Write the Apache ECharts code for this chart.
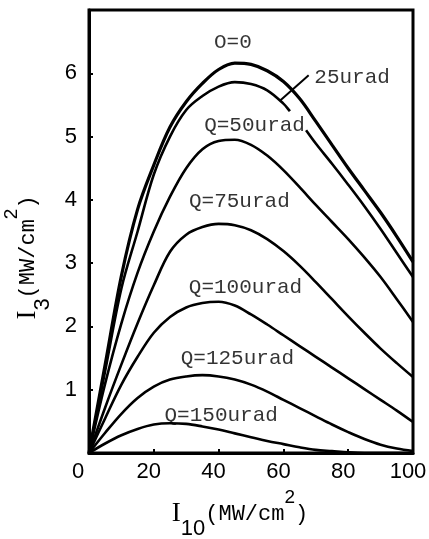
<!DOCTYPE html>
<html>
<head>
<meta charset="utf-8">
<script src="https://cdn.jsdelivr.net/npm/echarts@6/dist/echarts.min.js"></script>
<style>
  html, body { margin: 0; padding: 0; background: #fff; }
  #chart { width: 429px; height: 539px; }
</style>
</head>
<body>
<div id="chart"></div>
<script>
// I10 grid (MW/cm2)
const xGrid = [0, 5, 10, 15, 20, 25, 30, 35, 40, 45, 50, 55, 60, 65, 70, 75, 80, 85, 90, 95, 100]

// I3 for each divergence Q
const q0   = [0, 1.4, 2.8, 3.85, 4.55, 5.15, 5.55, 5.84, 6.06, 6.16, 6.14, 6.04, 5.87, 5.6, 5.24, 4.87, 4.5, 4.15, 3.8, 3.42, 3.02]
const q50  = [0, 1.1, 2.05, 2.85, 3.5, 4.05, 4.5, 4.8, 4.93, 4.95, 4.87, 4.7, 4.47, 4.2, 3.92, 3.65, 3.38, 3.09, 2.78, 2.43, 2.07]
const q75  = [0, 0.72, 1.4, 2.05, 2.65, 3.18, 3.45, 3.57, 3.62, 3.6, 3.52, 3.38, 3.19, 2.96, 2.7, 2.43, 2.16, 1.9, 1.65, 1.42, 1.2]
const q100 = [0, 0.55, 1.08, 1.52, 1.9, 2.15, 2.3, 2.37, 2.39, 2.33, 2.19, 2.03, 1.86, 1.69, 1.52, 1.35, 1.18, 1.01, 0.84, 0.67, 0.49]
const q125 = [0, 0.32, 0.62, 0.87, 1.05, 1.16, 1.21, 1.23, 1.21, 1.16, 1.08, 0.97, 0.84, 0.71, 0.58, 0.45, 0.33, 0.22, 0.13, 0.07, 0.03]
const q150 = [0, 0.15, 0.28, 0.38, 0.45, 0.47, 0.46, 0.42, 0.37, 0.31, 0.25, 0.19, 0.14, 0.09, 0.05, 0.03, 0.01, 0, 0, 0, 0]

// Q=25 curve is broken where the Q=50 label sits
const q25X = [0, 5, 10, 15, 20, 25, 30, 35, 40, 45, 50, 55, 60, 62, 64.5, 67, 70, 75, 80, 85, 90, 95, 100]
const q25  = [0, 1.3, 2.6, 3.5, 4.4, 5.0, 5.42, 5.64, 5.79, 5.86, 5.83, 5.73, 5.52, 5.4, null, 5.1, 4.89, 4.57, 4.24, 3.9, 3.54, 3.16, 2.78]

// curve labels
const labelText = ['O=0', '25urad', 'Q=50urad', 'Q=75urad', 'Q=100urad', 'Q=125urad', 'Q=150urad']
const labelX = [44.4, 81.2, 51.1, 46.4, 48.3, 45.8, 40.8]
const labelY = [6.48, 5.94, 5.18, 3.97, 2.61, 1.5, 0.6]

// leader from the 25urad label to its curve
const leaderX = [59, 67.8]
const leaderY = [5.57, 5.97]

const xTicks = [0, 20, 40, 60, 80, 100]
const yTicks = [1, 2, 3, 4, 5, 6]

const pairs = (xs, ys) => xs.map((x, i) => [x, ys[i]])

const mono = '"Liberation Mono", "DejaVu Sans Mono", monospace'
const sans = '"Liberation Sans", Arial, sans-serif'
const serif = '"Liberation Serif", "DejaVu Serif", serif'

const titleRich = {
  i: { fontFamily: serif, fontSize: 27, color: '#000', verticalAlign: 'middle', lineHeight: 52 },
  sub: { fontFamily: sans, fontSize: 22, color: '#000', verticalAlign: 'bottom', lineHeight: 22 },
  m: { fontFamily: mono, fontSize: 22, color: '#000', verticalAlign: 'middle', lineHeight: 52 },
  sup: { fontFamily: sans, fontSize: 19, color: '#000', verticalAlign: 'top', lineHeight: 20 }
}

const chart = echarts.init(document.getElementById('chart'), null, { renderer: 'canvas' })

const curve = (name, data, width) => ({
  name,
  type: 'line',
  data,
  smooth: 0.35,
  showSymbol: false,
  connectNulls: false,
  silent: true,
  lineStyle: { color: '#000', width }
})

chart.setOption({
  animation: false,
  backgroundColor: '#fff',
  grid: {
    left: 89, right: 16, top: 10, bottom: 86,
    outerBoundsMode: 'none',
    containLabel: false,
    show: true, borderColor: '#000', borderWidth: 3
  },
  xAxis: {
    type: 'value',
    min: 0, max: 100, interval: 20,
    name: '{i|I}{sub|10}{m|(MW/cm}{sup|2}{m|)}',
    nameLocation: 'middle',
    nameGap: 30,
    nameTextStyle: { rich: titleRich, padding: [0, 22, 0, 0] },
    axisLine: { show: true, lineStyle: { color: '#000', width: 3 } },
    axisTick: { show: true, inside: true, length: 4, lineStyle: { color: '#000', width: 2 } },
    axisLabel: {
      color: '#000', fontFamily: sans, fontSize: 22, margin: 8,
      formatter: v => v === 0 ? '{z|0}' : (xTicks.includes(v) ? '{t|' + v + '}' : ''),
      rich: {
        z: { fontFamily: sans, fontSize: 22, color: '#000', padding: [0, 22, 0, 0] },
        t: { fontFamily: sans, fontSize: 22, color: '#000', padding: [0, 10, 0, 0] }
      }
    },
    splitLine: { show: false }
  },
  yAxis: {
    type: 'value',
    min: 0, max: 7, interval: 1,
    name: '{i|I}{sub|3}{m|(MW/cm}{sup|2}{m|)}',
    nameLocation: 'middle',
    nameRotate: 90,
    nameGap: 21,
    nameTextStyle: { rich: titleRich, padding: [0, 52, 0, 0] },
    axisLine: { show: true, lineStyle: { color: '#000', width: 3 } },
    axisTick: { show: true, inside: true, length: 4, lineStyle: { color: '#000', width: 2 } },
    axisLabel: {
      color: '#000', fontFamily: sans, fontSize: 22, margin: 12,
      formatter: v => yTicks.includes(v) ? String(v) : ''
    },
    splitLine: { show: false }
  },
  series: [
    curve('Q=0', pairs(xGrid, q0), 3.2),
    curve('Q=25', pairs(q25X, q25), 2.6),
    curve('Q=50', pairs(xGrid, q50), 2.6),
    curve('Q=75', pairs(xGrid, q75), 2.6),
    curve('Q=100', pairs(xGrid, q100), 2.6),
    curve('Q=125', pairs(xGrid, q125), 2.6),
    curve('Q=150', pairs(xGrid, q150), 2.6),
    {
      name: 'leader',
      type: 'line',
      data: pairs(leaderX, leaderY),
      showSymbol: false,
      silent: true,
      lineStyle: { color: '#000', width: 2 }
    },
    {
      name: 'labels',
      type: 'scatter',
      symbolSize: 0,
      silent: true,
      data: labelText.map((t, i) => ({ name: t, value: [labelX[i], labelY[i]] })),
      label: {
        show: true,
        position: 'inside',
        formatter: p => p.name,
        color: '#000',
        fontFamily: mono,
        fontSize: 21
      }
    }
  ]
})
</script>
</body>
</html>
